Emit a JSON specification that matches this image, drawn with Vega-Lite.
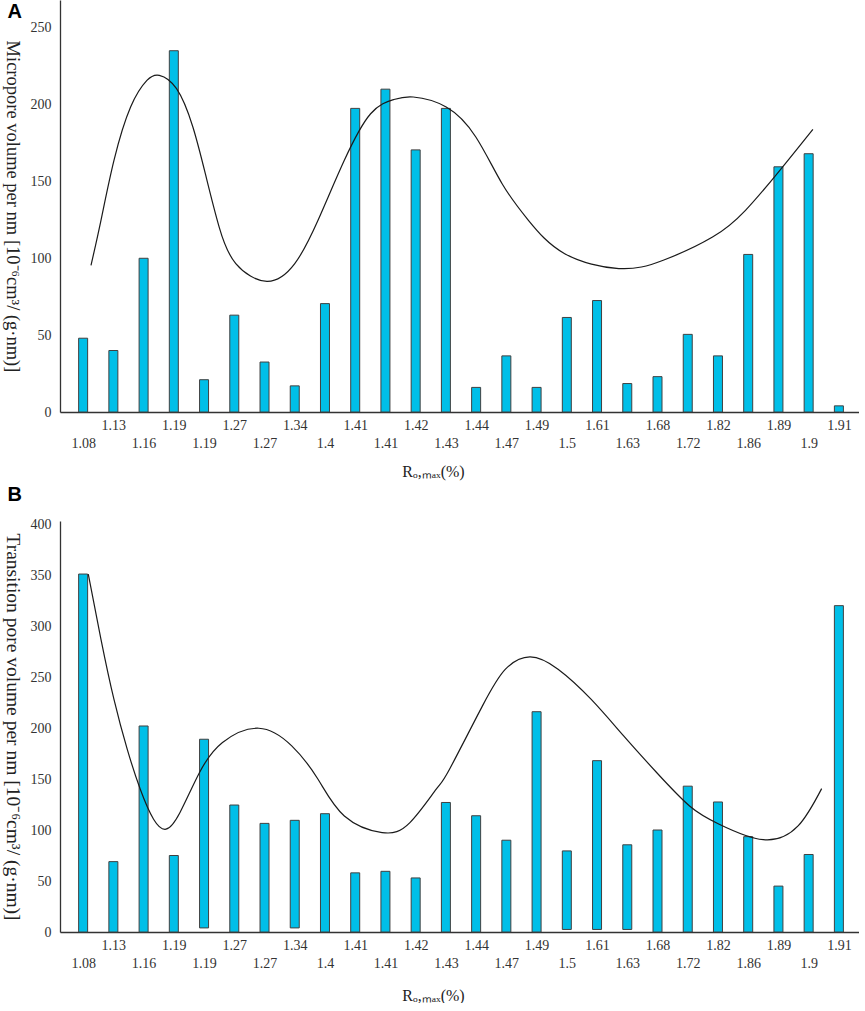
{
  "$schema": "https://vega.github.io/schema/vega-lite/v6.json",
  "background": "#ffffff",
  "padding": {"left": 2, "top": 0, "right": 0, "bottom": 0},
  "params": [
    {"name": "rlabels", "value": ["1.08", "1.13", "1.16", "1.19", "1.19", "1.27", "1.27", "1.34", "1.4", "1.41", "1.41", "1.42", "1.43", "1.44", "1.47", "1.49", "1.5", "1.61", "1.63", "1.68", "1.72", "1.82", "1.86", "1.89", "1.9", "1.91"]}
  ],
  "datasets": {
    "barsA": [
      {"i": 0, "ro": "1.08", "v": 48, "base": 0},
      {"i": 1, "ro": "1.13", "v": 40, "base": 0},
      {"i": 2, "ro": "1.16", "v": 100, "base": 0},
      {"i": 3, "ro": "1.19", "v": 235, "base": 0},
      {"i": 4, "ro": "1.19", "v": 21, "base": 0},
      {"i": 5, "ro": "1.27", "v": 63, "base": 0},
      {"i": 6, "ro": "1.27", "v": 32.5, "base": 0},
      {"i": 7, "ro": "1.34", "v": 17, "base": 0},
      {"i": 8, "ro": "1.4", "v": 70.5, "base": 0},
      {"i": 9, "ro": "1.41", "v": 197.5, "base": 0},
      {"i": 10, "ro": "1.41", "v": 210, "base": 0},
      {"i": 11, "ro": "1.42", "v": 170.5, "base": 0},
      {"i": 12, "ro": "1.43", "v": 197.5, "base": 0},
      {"i": 13, "ro": "1.44", "v": 16, "base": 0},
      {"i": 14, "ro": "1.47", "v": 36.5, "base": 0},
      {"i": 15, "ro": "1.49", "v": 16, "base": 0},
      {"i": 16, "ro": "1.5", "v": 61.5, "base": 0},
      {"i": 17, "ro": "1.61", "v": 72.5, "base": 0},
      {"i": 18, "ro": "1.63", "v": 18.5, "base": 0},
      {"i": 19, "ro": "1.68", "v": 23, "base": 0},
      {"i": 20, "ro": "1.72", "v": 50.5, "base": 0},
      {"i": 21, "ro": "1.82", "v": 36.5, "base": 0},
      {"i": 22, "ro": "1.86", "v": 102.5, "base": 0},
      {"i": 23, "ro": "1.89", "v": 159.5, "base": 0},
      {"i": 24, "ro": "1.9", "v": 168, "base": 0},
      {"i": 25, "ro": "1.91", "v": 4, "base": 0}
    ],
    "curveA": [
      {"i": 0.26, "v": 95.4}, {"i": 0.59, "v": 124.7}, {"i": 1.02, "v": 163.7},
      {"i": 1.57, "v": 198.4}, {"i": 2.11, "v": 215.7}, {"i": 2.52, "v": 219},
      {"i": 3.09, "v": 210.3}, {"i": 3.63, "v": 185.4}, {"i": 4.07, "v": 152.8},
      {"i": 4.5, "v": 120.3}, {"i": 5.05, "v": 96.5}, {"i": 6.08, "v": 85},
      {"i": 7.0, "v": 96.5}, {"i": 7.77, "v": 124.7}, {"i": 8.64, "v": 163.7},
      {"i": 9.51, "v": 194}, {"i": 10.27, "v": 203.2}, {"i": 10.92, "v": 204.9},
      {"i": 12.01, "v": 198.4}, {"i": 12.99, "v": 178.9}, {"i": 13.86, "v": 148.5},
      {"i": 14.73, "v": 124.7}, {"i": 15.93, "v": 103}, {"i": 17.72, "v": 93.3},
      {"i": 19.19, "v": 98.7}, {"i": 20.82, "v": 113.8}, {"i": 21.91, "v": 131.2},
      {"i": 23.0, "v": 156.1}, {"i": 24.14, "v": 183.9}
    ],
    "barsB": [
      {"i": 0, "ro": "1.08", "v": 351, "base": 0},
      {"i": 1, "ro": "1.13", "v": 69, "base": 0},
      {"i": 2, "ro": "1.16", "v": 202, "base": 0},
      {"i": 3, "ro": "1.19", "v": 75, "base": 0},
      {"i": 4, "ro": "1.19", "v": 189, "base": 4},
      {"i": 5, "ro": "1.27", "v": 124.5, "base": 0},
      {"i": 6, "ro": "1.27", "v": 106.5, "base": 0},
      {"i": 7, "ro": "1.34", "v": 109.5, "base": 4},
      {"i": 8, "ro": "1.4", "v": 116, "base": 0},
      {"i": 9, "ro": "1.41", "v": 58, "base": 0},
      {"i": 10, "ro": "1.41", "v": 59.5, "base": 0},
      {"i": 11, "ro": "1.42", "v": 53, "base": 0},
      {"i": 12, "ro": "1.43", "v": 127, "base": 0},
      {"i": 13, "ro": "1.44", "v": 114, "base": 0},
      {"i": 14, "ro": "1.47", "v": 90, "base": 0},
      {"i": 15, "ro": "1.49", "v": 216, "base": 0},
      {"i": 16, "ro": "1.5", "v": 79.5, "base": 2.5},
      {"i": 17, "ro": "1.61", "v": 168, "base": 2.5},
      {"i": 18, "ro": "1.63", "v": 85.5, "base": 2.5},
      {"i": 19, "ro": "1.68", "v": 100, "base": 0},
      {"i": 20, "ro": "1.72", "v": 143, "base": 0},
      {"i": 21, "ro": "1.82", "v": 127.5, "base": 0},
      {"i": 22, "ro": "1.86", "v": 93.5, "base": 0},
      {"i": 23, "ro": "1.89", "v": 45, "base": 0},
      {"i": 24, "ro": "1.9", "v": 76, "base": 0},
      {"i": 25, "ro": "1.91", "v": 320, "base": 0}
    ],
    "curveB": [
      {"i": 0.17, "v": 351}, {"i": 0.59, "v": 287}, {"i": 1.02, "v": 228},
      {"i": 1.46, "v": 179}, {"i": 1.89, "v": 140}, {"i": 2.33, "v": 110.6},
      {"i": 2.74, "v": 100.8}, {"i": 3.2, "v": 117}, {"i": 3.85, "v": 156.4},
      {"i": 4.61, "v": 185.8}, {"i": 5.81, "v": 199.8}, {"i": 6.9, "v": 182.5},
      {"i": 7.77, "v": 149.8}, {"i": 8.64, "v": 113.8}, {"i": 9.89, "v": 97.5},
      {"i": 10.81, "v": 107.3}, {"i": 11.68, "v": 140}, {"i": 12.12, "v": 159.6},
      {"i": 13.21, "v": 221.7}, {"i": 13.97, "v": 257.7}, {"i": 14.78, "v": 269.8},
      {"i": 15.71, "v": 257.7}, {"i": 16.8, "v": 228.3}, {"i": 17.88, "v": 192.3},
      {"i": 18.97, "v": 156.4}, {"i": 20.06, "v": 123.6}, {"i": 21.04, "v": 105.7},
      {"i": 22.5, "v": 90.5}, {"i": 23.65, "v": 104}, {"i": 24.43, "v": 140.6}
    ]
  },
  "vconcat": [
    {
      "width": 799,
      "height": 412,
      "title": {"text": "A", "anchor": "start", "frame": "bounds", "offset": -22, "dx": 5, "font": "Liberation Sans", "fontSize": 20, "fontWeight": "bold", "color": "#000000"},
      "encoding": {
        "x": {
          "field": "i", "type": "quantitative",
          "scale": {"domain": [-0.6, 25.5], "nice": false, "zero": false},
          "axis": {
            "values": [0, 1, 2, 3, 4, 5, 6, 7, 8, 9, 10, 11, 12, 13, 14, 15, 16, 17, 18, 19, 20, 21, 22, 23, 24, 25],
            "labelExpr": "[datum.value % 2 ? rlabels[datum.value] : '', datum.value % 2 ? '' : rlabels[datum.value]]",
            "title": "Rₒ,ₘₐₓ(%)", "titleX": 373, "titlePadding": 13
          }
        },
        "y": {
          "field": "v", "type": "quantitative",
          "scale": {"domain": [0, 268], "nice": false},
          "axis": {"values": [0, 50, 100, 150, 200, 250], "title": "Micropore volume per nm [10⁻⁶cm³/ (g·nm)]", "titleFontSize": 18.5}
        }
      },
      "layer": [
        {
          "data": {"name": "barsA"},
          "mark": {"type": "bar", "width": 9, "color": "#00BFE8", "stroke": "#404040", "strokeWidth": 1},
          "encoding": {
            "y2": {"field": "base"},
            "tooltip": [{"field": "ro", "title": "Ro,max (%)"}, {"field": "v", "type": "quantitative"}]
          }
        },
        {
          "data": {"name": "curveA"},
          "mark": {"type": "line", "interpolate": "natural", "color": "#1a1a1a", "strokeWidth": 1.2}
        }
      ]
    },
    {
      "width": 799,
      "height": 411,
      "title": {"text": "B", "anchor": "start", "frame": "bounds", "offset": 12, "dx": 5, "font": "Liberation Sans", "fontSize": 20, "fontWeight": "bold", "color": "#000000"},
      "encoding": {
        "x": {
          "field": "i", "type": "quantitative",
          "scale": {"domain": [-0.6, 25.5], "nice": false, "zero": false},
          "axis": {
            "values": [0, 1, 2, 3, 4, 5, 6, 7, 8, 9, 10, 11, 12, 13, 14, 15, 16, 17, 18, 19, 20, 21, 22, 23, 24, 25],
            "labelExpr": "[datum.value % 2 ? rlabels[datum.value] : '', datum.value % 2 ? '' : rlabels[datum.value]]",
            "title": "Rₒ,ₘₐₓ(%)", "titleX": 373, "titlePadding": 17
          }
        },
        "y": {
          "field": "v", "type": "quantitative",
          "scale": {"domain": [0, 403], "nice": false},
          "axis": {"values": [0, 50, 100, 150, 200, 250, 300, 350, 400], "title": "Transition pore volume per nm [10⁻⁶cm³/ (g·nm)]", "titleFontSize": 19.5}
        }
      },
      "layer": [
        {
          "data": {"name": "barsB"},
          "mark": {"type": "bar", "width": 9, "color": "#00BFE8", "stroke": "#404040", "strokeWidth": 1},
          "encoding": {
            "y2": {"field": "base"},
            "tooltip": [{"field": "ro", "title": "Ro,max (%)"}, {"field": "v", "type": "quantitative"}]
          }
        },
        {
          "data": {"name": "curveB"},
          "mark": {"type": "line", "interpolate": "natural", "color": "#1a1a1a", "strokeWidth": 1.2}
        }
      ]
    }
  ],
  "spacing": 6,
  "config": {
    "view": {"stroke": null},
    "axis": {
      "grid": false,
      "ticks": false,
      "domainColor": "#333333",
      "domainWidth": 1.3,
      "labelFont": "Liberation Serif",
      "labelFontSize": 14,
      "labelColor": "#333333",
      "titleFont": "Liberation Serif",
      "titleFontWeight": "normal",
      "titleColor": "#222222"
    },
    "axisX": {
      "labelAngle": 0,
      "labelBaseline": "top",
      "labelLineHeight": 18,
      "labelPadding": 6,
      "labelFlush": false,
      "labelOverlap": false,
      "titleFontSize": 16
    },
    "axisY": {
      "labelPadding": 9,
      "titleAngle": 90,
      "titleBaseline": "top",
      "titlePadding": 9
    }
  }
}
